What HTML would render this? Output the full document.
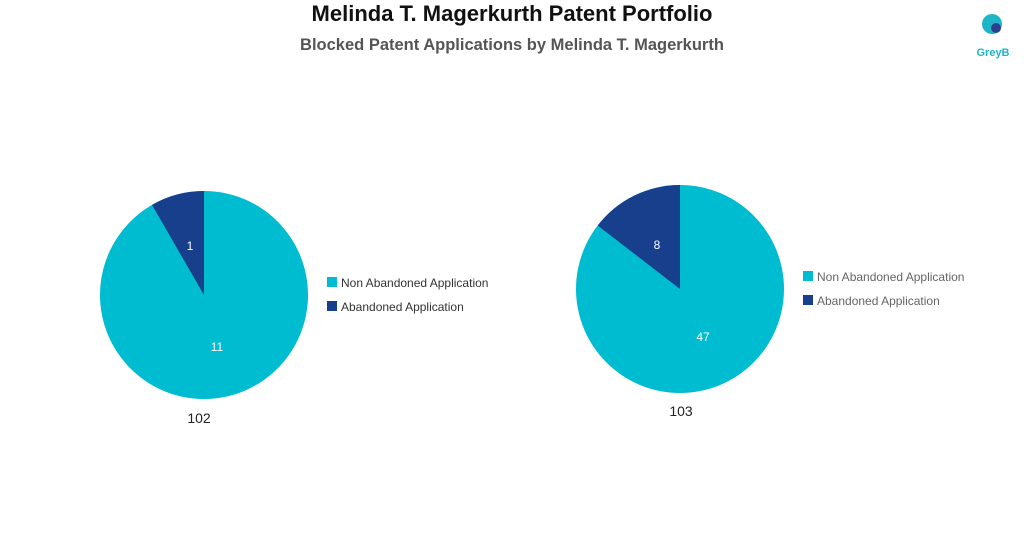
<!DOCTYPE html>
<html><head><style>
body{margin:0;width:1024px;height:546px;background:#fff;overflow:hidden;font-family:"Liberation Sans",sans-serif}
</style></head><body>
<svg width="1024" height="546" xmlns="http://www.w3.org/2000/svg" font-family="Liberation Sans, sans-serif">
<text x="512" y="21" text-anchor="middle" font-size="22" font-weight="bold" fill="#111">Melinda T. Magerkurth Patent Portfolio</text>
<text x="512" y="50" text-anchor="middle" font-size="16.5" font-weight="bold" fill="#555">Blocked Patent Applications by Melinda T. Magerkurth</text>
<circle cx="992" cy="24" r="10" fill="#1fb5c8"/>
<circle cx="996" cy="28" r="5" fill="#2b3f8f"/>
<text x="993" y="56" text-anchor="middle" font-size="11" font-weight="bold" fill="#1fb5c8">GreyB</text>
<circle cx="204" cy="295" r="104" fill="#00bcd0"/>
<path d="M204,295 L204,191 A104,104 0 0 0 152,204.9 Z" fill="#173f8c"/>
<text x="190" y="250" text-anchor="middle" font-size="12" fill="#fff">1</text>
<text x="217" y="351" text-anchor="middle" font-size="12" fill="#fff">11</text>
<text x="199" y="423" text-anchor="middle" font-size="14" fill="#222">102</text>
<rect x="327" y="277" width="10" height="10" fill="#00bcd0"/>
<text x="341" y="287" font-size="12" fill="#333">Non Abandoned Application</text>
<rect x="327" y="301" width="10" height="10" fill="#173f8c"/>
<text x="341" y="311" font-size="12" fill="#333">Abandoned Application</text>
<circle cx="680" cy="289" r="104" fill="#00bcd0"/>
<path d="M680,289 L680,185 A104,104 0 0 0 597.7,225.5 Z" fill="#173f8c"/>
<text x="657" y="249" text-anchor="middle" font-size="12" fill="#fff">8</text>
<text x="703" y="341" text-anchor="middle" font-size="12" fill="#fff">47</text>
<text x="681" y="416" text-anchor="middle" font-size="14" fill="#222">103</text>
<rect x="803" y="271" width="10" height="10" fill="#00bcd0"/>
<text x="817" y="281" font-size="12" fill="#666">Non Abandoned Application</text>
<rect x="803" y="295" width="10" height="10" fill="#173f8c"/>
<text x="817" y="305" font-size="12" fill="#666">Abandoned Application</text>
</svg>
</body></html>
